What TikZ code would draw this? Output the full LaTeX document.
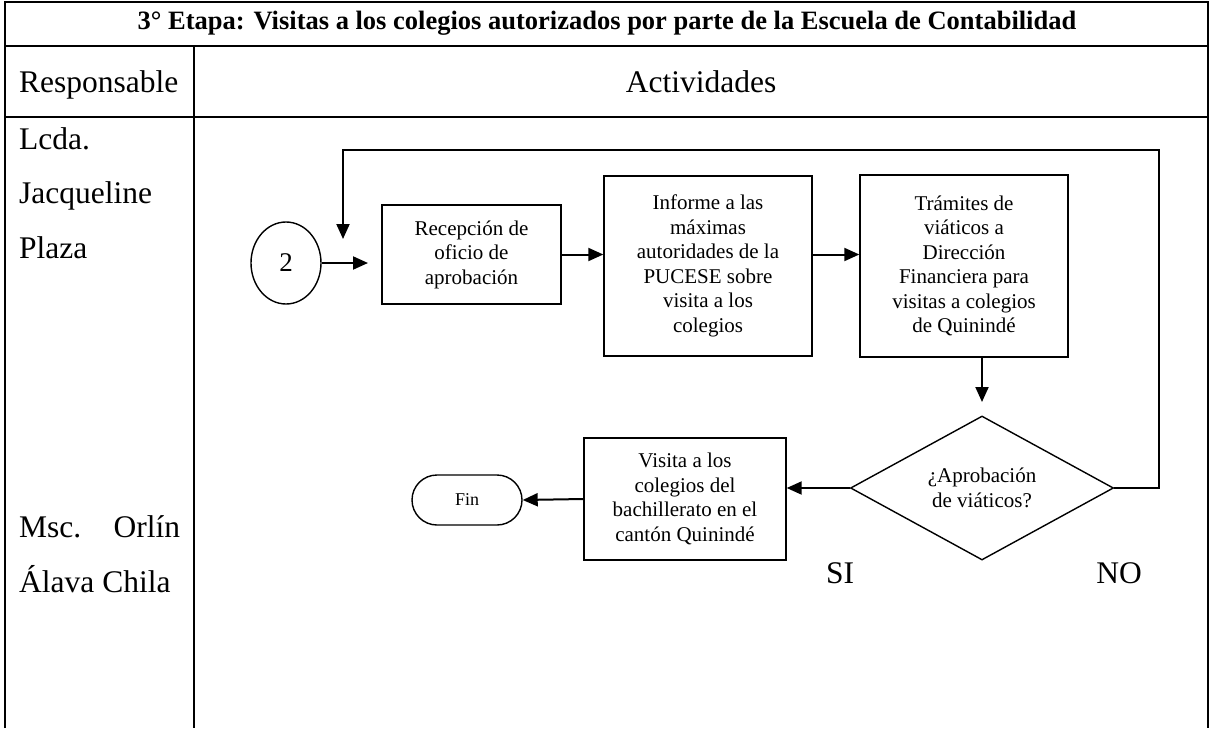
\documentclass[tikz,border=0pt]{standalone}
\usepackage{fontspec}
\setmainfont{Liberation Serif}
\usetikzlibrary{shapes.geometric,shapes.misc,arrows.meta}

\tikzset{
  linea/.style={line width=2pt},
  texto/.style={inner sep=0pt, font=\fontsize{31.5}{55}\selectfont},
  titulo/.style={inner sep=0pt, font=\fontsize{26.5}{30}\selectfont\bfseries},
  caja/.style={draw, line width=1.4pt, align=center, inner sep=0pt,
    font=\fontsize{21}{24.5}\selectfont},
  rombo/.style={draw, diamond, line width=1.4pt, align=center, inner sep=0pt,
    aspect=1.83, minimum width=263pt, minimum height=144pt,
    font=\fontsize{21}{24.5}\selectfont},
  conector/.style={draw, ellipse, line width=1.4pt, inner sep=0pt,
    minimum width=70pt, minimum height=82pt, font=\fontsize{27}{30}\selectfont},
  terminal/.style={draw, rounded rectangle, line width=1.4pt, inner sep=0pt,
    minimum width=110pt, minimum height=50pt, font=\fontsize{18}{20}\selectfont},
  flecha/.style={line width=2pt, -{Triangle[length=15pt,width=13pt]}}
}

\begin{document}
\begin{tikzpicture}[x=1pt,y=-1pt]
  \useasboundingbox (0,0) rectangle (1212,728);
  %%%%% TABLA %%%%%
  \draw[linea] (5,728) -- (5,2) -- (1208,2) -- (1208,728);
  \draw[linea] (5,46) -- (1208,46);
  \draw[linea] (5,117) -- (1208,117);
  \draw[linea] (194,46) -- (194,728);

  \node[titulo] (etapa) at (607,23) {3° Etapa: Visitas a los colegios autorizados por parte de la Escuela de Contabilidad};
  \node[texto, anchor=base west] (resp) at (19,92) {Responsable};
  \node[texto, anchor=base] (activ) at (701,92) {Actividades};

  \node[texto, anchor=base west] (lcda) at (19,149) {Lcda.};
  \node[texto, anchor=base west] (jacq) at (19,203) {Jacqueline};
  \node[texto, anchor=base west] (plaza) at (19,258) {Plaza};
  \node[texto, anchor=base west] (msc) at (19,537) {\hbox to 161pt{Msc.\hfill Orlín}};
  \node[texto, anchor=base west] (alava) at (19,592) {Álava Chila};

  %%%%% FLUJO %%%%%
  \node[conector] (dos) at (286,263) {2};
  \node[caja, minimum width=179pt, minimum height=99pt] (recep) at (471.5,254.5)
    {Recepción de\\oficio de\\aprobación};
  \node[caja, minimum width=208pt, minimum height=180pt] (informe) at (708,266)
    {Informe a las\\máximas\\autoridades de la\\PUCESE sobre\\visita a los\\colegios};
  \node[caja, minimum width=208pt, minimum height=182pt] (tramite) at (964,266)
    {Trámites de\\viáticos a\\Dirección\\Financiera para\\visitas a colegios\\de Quinindé};
  \node[rombo] (aprob) at (982,488) {¿Aprobación\\de viáticos?};
  \node[caja, minimum width=202pt, minimum height=122pt] (visita) at (685,499)
    {Visita a los\\colegios del\\bachillerato en el\\cantón Quinindé};
  \node[terminal] (fin) at (467,500) {Fin};
  \node[texto] (si) at (840,573) {SI};
  \node[texto] (no) at (1119,573) {NO};

  \coordinate (llega) at (368,263);
  \coordinate (baja) at (982,402);
  \coordinate (vuelta) at (343,239);

  \draw[flecha] (dos.east) -- (llega);
  \draw[flecha] (recep.east) -- (informe.west |- recep.east);
  \draw[flecha] (informe.east |- recep.east) -- (tramite.west |- recep.east);
  \draw[flecha] (aprob.north |- tramite.south) -- (baja);
  \draw[flecha] (aprob.west) -- (visita.east |- aprob.west);
  \draw[flecha] (visita.west) -- (fin.east);
  \draw[flecha] (aprob.east) -| (1159,150) -| (vuelta);
\end{tikzpicture}
\end{document}
